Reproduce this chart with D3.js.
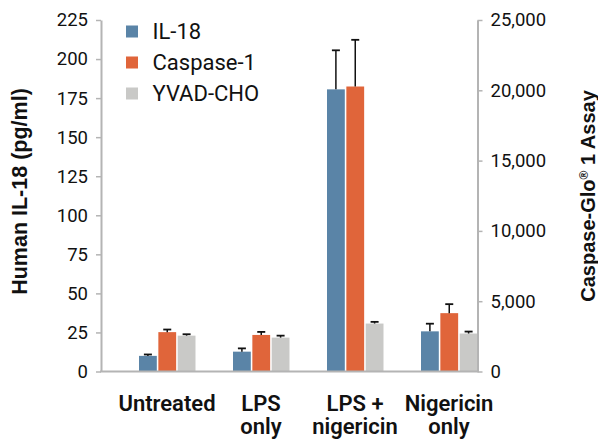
<!DOCTYPE html>
<html>
<head>
<meta charset="utf-8">
<script src="https://cdn.jsdelivr.net/npm/d3@7"></script>
<style>
  html, body { margin: 0; padding: 0; background: #fff; }
  svg { display: block; }
</style>
</head>
<body>
<svg id="chart" width="598" height="443"></svg>
<script>
// ---- data ----
const categories = [["Untreated"], ["LPS", "only"], ["LPS +", "nigericin"], ["Nigericin", "only"]];
const categoryKeys = ["Untreated", "LPS only", "LPS + nigericin", "Nigericin only"];
const seriesNames = ["IL-18", "Caspase-1", "YVAD-CHO"];
const il18Values = [10, 12.7, 180.6, 25.7];         // pg/ml (left axis)
const il18Errors = [0.9, 2.1, 25, 4.9];
const caspaseValues = [2800, 2600, 20270, 4150];    // Caspase-Glo 1 (right axis)
const caspaseErrors = [185, 215, 3320, 640];
const yvadValues = [2550, 2410, 3410, 2700];        // Caspase-Glo 1 (right axis)
const yvadErrors = [100, 140, 120, 140];
const leftTicks = [0, 25, 50, 75, 100, 125, 150, 175, 200, 225];
const rightTicks = [0, 5000, 10000, 15000, 20000, 25000];
const colors = ["#5a84a7", "#e0653a", "#c9c9c7"];

// ---- layout ----
const svg = d3.select("#chart");
const yTop = 20, yBottom = 371.5, xLeft = 101, xRight = 477.5;
const axisColor = "#b4b4b4";

const yLeft = d3.scaleLinear().domain([0, 225]).range([yBottom, yTop]);
const yRight = d3.scaleLinear().domain([0, 25000]).range([yBottom, yTop]);
const xGroup = d3.scalePoint().domain(categoryKeys).range([167, 449]);
const xInner = d3.scaleBand().domain(seriesNames).range([-28, 28.5]).paddingInner(0.08);

const series = [
  { name: "IL-18", values: il18Values, errors: il18Errors, y: yLeft },
  { name: "Caspase-1", values: caspaseValues, errors: caspaseErrors, y: yRight },
  { name: "YVAD-CHO", values: yvadValues, errors: yvadErrors, y: yRight }
];

// bars
series.forEach((s, si) => {
  const g = svg.append("g");
  categoryKeys.forEach((c, ci) => {
    const x0 = xGroup(c) + xInner(s.name);
    const w = xInner.bandwidth();
    const v = s.values[ci];
    g.append("rect")
      .attr("x", x0).attr("y", s.y(v))
      .attr("width", w).attr("height", yBottom - s.y(v))
      .attr("fill", colors[si]);
    // error bar (upper only)
    const cx = x0 + w / 2;
    const ye = s.y(v + s.errors[ci]);
    g.append("line").attr("x1", cx).attr("x2", cx).attr("y1", s.y(v)).attr("y2", ye)
      .attr("stroke", "#111").attr("stroke-width", 1.5);
    g.append("line").attr("x1", cx - 4).attr("x2", cx + 4).attr("y1", ye).attr("y2", ye)
      .attr("stroke", "#111").attr("stroke-width", 1.8);
  });
});

// left axis
const leftAxis = svg.append("g").attr("transform", `translate(${xLeft},0)`)
  .call(d3.axisLeft(yLeft).tickValues(leftTicks).tickSize(5).tickPadding(8).tickSizeOuter(0));
// right axis
const rightAxis = svg.append("g").attr("transform", `translate(${xRight},0)`)
  .call(d3.axisRight(yRight).tickValues(rightTicks).tickSize(5).tickPadding(8).tickSizeOuter(0)
    .tickFormat(d3.format(",")));
[leftAxis, rightAxis].forEach(a => {
  a.select(".domain").attr("stroke", axisColor).attr("stroke-width", 2);
  a.selectAll(".tick line").attr("stroke", axisColor).attr("stroke-width", 1.5);
  a.selectAll(".tick text").attr("fill", "#111")
    .style("font-family", "Roboto, sans-serif").style("font-size", "18.5px");
});
// bottom axis line
svg.append("line").attr("x1", xLeft - 1).attr("x2", xRight + 1).attr("y1", yBottom).attr("y2", yBottom)
  .attr("stroke", axisColor).attr("stroke-width", 2);

// category labels
categories.forEach((lines, i) => {
  const t = svg.append("text")
    .attr("x", xGroup(categoryKeys[i]))
    .attr("y", 411)
    .attr("text-anchor", "middle")
    .attr("fill", "#111")
    .style("font-family", "Roboto, sans-serif").style("font-size", "22px").style("font-weight", "600");
  lines.forEach((l, li) => {
    t.append("tspan").attr("x", xGroup(categoryKeys[i])).attr("dy", li === 0 ? 0 : 23).text(l);
  });
});

// axis titles
svg.append("text")
  .attr("transform", "translate(27,191.5) rotate(-90)")
  .attr("text-anchor", "middle").attr("fill", "#111")
  .style("font-family", "'Liberation Sans', Arial, sans-serif").style("font-size", "21.5px").style("font-weight", "bold")
  .text("Human IL-18 (pg/ml)");
const rt = svg.append("text")
  .attr("transform", "translate(595,196) rotate(-90)")
  .attr("text-anchor", "middle").attr("fill", "#111")
  .style("font-family", "'Liberation Sans', Arial, sans-serif").style("font-size", "20px").style("font-weight", "bold");
rt.append("tspan").text("Caspase-Glo");
rt.append("tspan").attr("dy", -7).style("font-size", "12px").text("®");
rt.append("tspan").attr("dy", 7).text(" 1 Assay");

// legend
const legend = svg.append("g");
seriesNames.forEach((n, i) => {
  const cy = 31.5 + i * 31;
  legend.append("rect").attr("x", 126).attr("y", cy - 6).attr("width", 12).attr("height", 12).attr("fill", colors[i]);
  legend.append("text").attr("x", 152.5).attr("y", cy + 7.5).attr("fill", "#111")
    .style("font-family", "Roboto, sans-serif").style("font-size", "22px").text(n);
});
</script>
</body>
</html>
